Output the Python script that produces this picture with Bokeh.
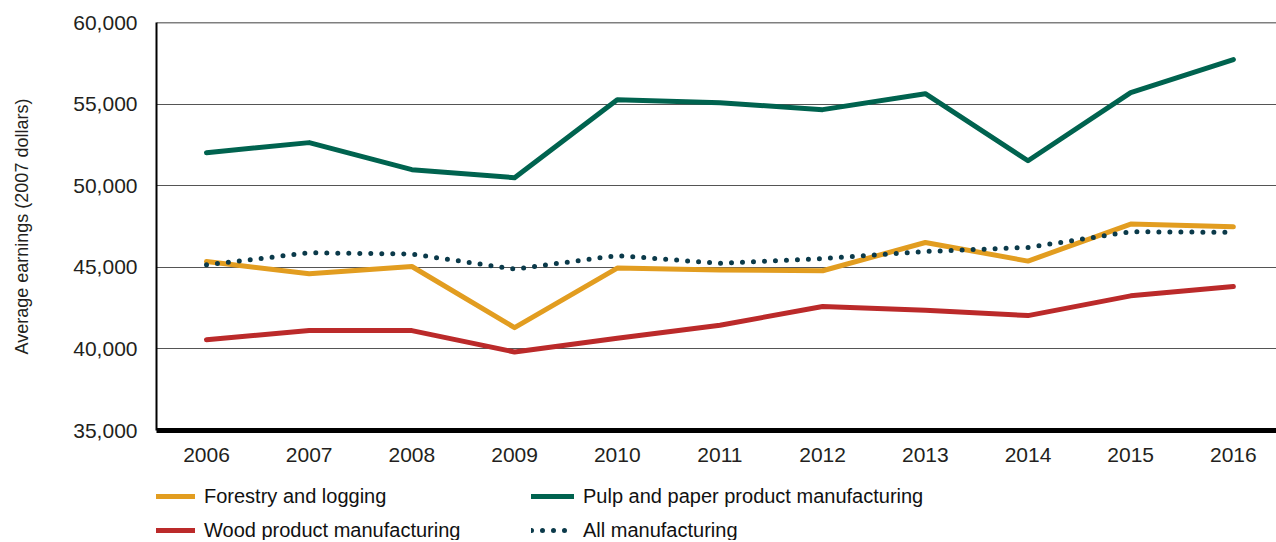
from bokeh.plotting import figure
from bokeh.layouts import column
from bokeh.models import (Legend, LegendItem, FixedTicker, NumeralTickFormatter,
                          Span, Range1d)
from bokeh.embed import file_html
from bokeh.resources import INLINE

years = [2006, 2007, 2008, 2009, 2010, 2011, 2012, 2013, 2014, 2015, 2016]
forestry = [45350, 44600, 45050, 41300, 44950, 44830, 44790, 46520, 45380, 47650, 47480]
pulp = [52020, 52640, 50980, 50490, 55270, 55090, 54660, 55640, 51530, 55700, 57730]
wood = [40560, 41130, 41120, 39810, 40650, 41450, 42600, 42370, 42040, 43250, 43820]
all_mfg = [45150, 45890, 45810, 44890, 45720, 45240, 45540, 45970, 46220, 47180, 47140]
y_ticks = [35000, 40000, 45000, 50000, 55000, 60000]

names = ["Forestry and logging", "Pulp and paper product manufacturing",
         "Wood product manufacturing", "All manufacturing"]
colors = ["#e29d20", "#00634f", "#bb2a2a", "#0b3a4a"]
series = [forestry, pulp, wood, all_mfg]
dashes = ["solid", "solid", "solid", "0 11"]

TXT = "#231f20"
p = figure(width=1276, height=475, output_backend="svg", toolbar_location=None,
           x_range=Range1d(2005.513, 2016.42), y_range=Range1d(35000, 60000),
           min_border_left=156, min_border_right=0, min_border_top=22,
           min_border_bottom=45, background_fill_color="white",
           border_fill_color="white", outline_line_color=None)

# draw order: pulp, forestry, wood, all manufacturing (dots on top)
for i in [1, 0, 2, 3]:
    p.line(years, series[i], line_color=colors[i], line_width=5,
           line_dash=dashes[i], line_join="round", line_cap="round")

p.add_layout(Span(location=60000, dimension="width", line_color="black", line_width=1.5))

p.xaxis.ticker = FixedTicker(ticks=years)
p.yaxis.ticker = FixedTicker(ticks=y_ticks)
p.yaxis.formatter = NumeralTickFormatter(format="0,0")
p.xgrid.grid_line_color = None
p.ygrid.grid_line_color = "#555555"
p.ygrid.grid_line_width = 1

for ax in (p.xaxis, p.yaxis):
    ax.major_tick_line_color = None
    ax.minor_tick_line_color = None
    ax.major_label_text_font = "Liberation Sans"
    ax.major_label_text_font_size = "21px"
    ax.major_label_text_color = TXT
    ax.axis_line_color = "black"

p.xaxis.major_label_standoff = 11
p.yaxis.major_label_standoff = 13
p.xaxis.axis_line_width = 5
p.yaxis.axis_line_width = 2
p.yaxis.axis_label = "Average earnings (2007 dollars)"
p.yaxis.axis_label_text_font = "Liberation Sans"
p.yaxis.axis_label_text_font_size = "18px"
p.yaxis.axis_label_text_font_style = "normal"
p.yaxis.axis_label_text_color = TXT
p.yaxis.axis_label_standoff = 38

# legend panel below the chart (its frame is aligned with the chart's frame)
lg = figure(width=1276, height=65, output_backend="svg", toolbar_location=None,
            x_axis_type=None, y_axis_type=None, x_range=Range1d(0, 1), y_range=Range1d(0, 1),
            min_border_left=0, min_border_right=0, min_border_top=0, min_border_bottom=0,
            outline_line_color=None, background_fill_color="white", border_fill_color="white")
lg.xgrid.grid_line_color = None
lg.ygrid.grid_line_color = None
# legend proxies: points placed outside the visible range so only the key shows
proxies = [lg.line([-5, -4], [-5, -5], line_color=colors[i], line_width=5,
                   line_dash=dashes[i], line_cap="round") for i in range(4)]


def make_legend(idx, loc):
    leg = Legend(items=[LegendItem(label=names[i], renderers=[proxies[i]]) for i in idx],
                 location=loc, orientation="vertical",
                 background_fill_alpha=0, border_line_alpha=0, padding=0, margin=0,
                 spacing=10, glyph_width=43, glyph_height=24, label_height=24,
                 label_standoff=9, label_text_font="Liberation Sans",
                 label_text_font_size="20px", label_text_color="#111111")
    lg.add_layout(leg, "center")


make_legend([0, 2], (-4, -2))
make_legend([1, 3], (375, -2))

open("out.html", "w").write(file_html(column(p, lg, spacing=0), INLINE))
